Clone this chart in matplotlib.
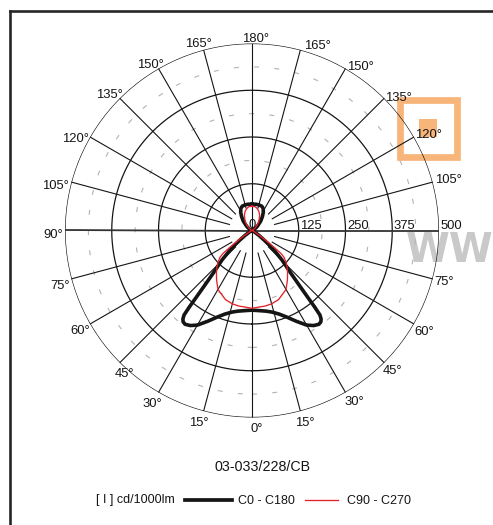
import numpy as np
import matplotlib
matplotlib.use("Agg")
import matplotlib.pyplot as plt
from matplotlib.lines import Line2D
from matplotlib.patches import Rectangle

plt.rcParams['font.family'] = ['Liberation Sans', 'DejaVu Sans']
plt.rcParams['lines.scale_dashes'] = False

# ---- photometric data (cd/1000lm), angle measured from nadir ----
c0_angles = [0, 5, 10, 14, 18, 22, 26, 30, 33, 35.5, 37, 38, 38.8, 39.3, 39.8,
             40.6, 41.3, 42.2, 43.5, 45.5, 48, 50, 52, 55, 58, 62, 68, 75, 90,
             100, 110, 120, 128, 137, 143, 148, 153, 158, 165, 172, 180]
c0_values = [213, 215, 219, 225, 235, 250, 270, 292, 303, 308, 306, 300, 290, 265, 235,
             200, 178, 156, 135, 112, 82, 58, 40, 22, 10, 4, 1, 0, 0,
             1, 3, 9, 18, 34, 46, 57, 66, 70, 71, 71, 70]

c90_angles = [0, 10, 15, 21, 30, 35.5, 40, 44, 47, 50, 51.5, 52.5, 53.5, 55, 57,
              60, 65, 72, 80, 90, 100, 110, 120, 128, 135, 141, 147, 153, 160,
              166, 172, 180]
c90_values = [208, 205, 203, 198, 182, 163, 148, 135, 124, 112, 100, 80, 60, 38, 20,
              10, 4, 1, 0, 0, 0, 1, 4, 10, 18, 27, 35, 45, 54,
              60, 64, 65]

rings = [125, 250, 375, 500]
ring_labels = ["125", "250", "375", "500"]
minor_rings = [187.5, 312.5, 437.5]
spoke_angles = [15, 30, 45, 60, 75, 105, 120, 135, 150, 165]
label_angles = [0, 15, 30, 45, 60, 75, 90, 105, 120, 135, 150, 165, 180]

title_text = "03-033/228/CB"
unit_text = "[ I ] cd/1000lm"
series_names = ["C0 - C180", "C90 - C270"]

# ---- layout ----
W, H = 493, 525
CX, CY, R = 252, 230.5, 187
INK = '#151515'
BLACK = '#151515'
RED = '#e3222a'
ORANGE = '#f7b57a'
FS = 9.4

# text-centre offsets (px, right/down) from the end of each spoke
label_offsets = {
    (180, 0): (4, -6.5),
    (165, -1): (-5, -7), (165, 1): (17, -5),
    (150, -1): (-8.5, -5.5), (150, 1): (14.5, -3.5),
    (135, -1): (-10, -5), (135, 1): (14, -2),
    (120, -1): (-15, 0), (120, 1): (14.5, -4),
    (105, -1): (-16, 2), (105, 1): (16, -4),
    (90, -1): (-12, 2.5),
    (75, -1): (-11.4, 6), (75, 1): (11, 2),
    (60, -1): (-10, 6), (60, 1): (10, 6),
    (45, -1): (4.7, 9.5), (45, 1): (8, 7),
    (30, -1): (-6, 10.5), (30, 1): (8.5, 8.5),
    (15, -1): (-4.6, 10.5), (15, 1): (4.6, 10.5),
    (0, 0): (4.5, 10),
}


def fx(x):
    return x / W


def fy(y):
    return 1 - y / H


PT = 0.72  # points per pixel at 100 dpi

fig = plt.figure(figsize=(W / 100, H / 100), dpi=100)
fig.patch.set_facecolor('white')

ax = fig.add_axes([fx(CX - R), fy(CY + R), 2 * R / W, 2 * R / H], projection='polar')
ax.set_theta_zero_location('S')
ax.set_theta_direction(1)
ax.set_ylim(0, 500)
ax.grid(False)
ax.set_xticks([])
ax.set_yticks([])
ax.spines['polar'].set_visible(False)
ax.patch.set_visible(False)

full = np.linspace(0, 2 * np.pi, 721)

# minor dashed rings
for r in minor_rings:
    ax.plot(full, np.full_like(full, r), color='#b3b3b3', lw=0.8,
            linestyle=(0, (3.6, 11.0)), zorder=1)

# main rings
for r in rings:
    ax.plot(full, np.full_like(full, r), color=INK, lw=0.9, zorder=2)

# spokes
for a in spoke_angles:
    for s in (1, -1):
        t = np.deg2rad(s * a)
        ax.plot([t, t], [62.5, 500], color=INK, lw=0.8, zorder=2)
# axes through the centre
for a in (90, -90):
    t = np.deg2rad(a)
    ax.plot([t, t], [0, 500], color='#333333', lw=1.3, zorder=2)
for a in (0, 180):
    t = np.deg2rad(a)
    ax.plot([t, t], [0, 500], color=INK, lw=0.8, zorder=2)


def mirrored(angles, values):
    a = np.asarray(angles, dtype=float)
    v = np.asarray(values, dtype=float)
    th = np.concatenate([-a[::-1], a[1:]])
    rv = np.concatenate([v[::-1], v[1:]])
    return np.deg2rad(th), rv


th0, r0 = mirrored(c0_angles, c0_values)
th90, r90 = mirrored(c90_angles, c90_values)
ax.plot(th0, r0, color=BLACK, lw=2.6, zorder=4, solid_joinstyle='round')
ax.plot(th90, r90, color=RED, lw=0.95, zorder=5)

# angle labels
for a in label_angles:
    sides = (0,) if a in (0, 180) else ((-1,) if a == 90 else (-1, 1))
    for s in sides:
        dx, dy = label_offsets[(a, s)]
        t = np.deg2rad(a if s >= 0 else -a)
        ax.annotate(f"{a}°", xy=(t, 500), xycoords='data',
                    xytext=(dx * PT, -(dy + 4.5) * PT), textcoords='offset points',
                    ha='center', va='baseline', fontsize=FS, color=INK,
                    annotation_clip=False, zorder=6)

# radial value labels
for r, lab in zip(rings, ring_labels):
    ax.annotate(lab, xy=(np.deg2rad(90), r), xycoords='data',
                xytext=(1.5 * PT, 1.5 * PT), textcoords='offset points',
                ha='left', va='baseline', fontsize=FS, color=INK,
                annotation_clip=False, zorder=6)
ax.annotate("0", xy=(0, 0), xycoords='data', xytext=(0, 2.5 * PT),
            textcoords='offset points', ha='center', va='baseline',
            fontsize=FS, color=INK, annotation_clip=False, zorder=6)

# background decorations
fig.add_artist(Rectangle((fx(400), fy(156.7)), 56.7 / W, 56.7 / H, fill=False,
                         edgecolor=ORANGE, lw=6.7 * PT, transform=fig.transFigure,
                         zorder=-2))
fig.add_artist(Rectangle((fx(419.3), fy(137.3)), 18 / W, 18 / H, facecolor=ORANGE,
                         edgecolor='none', transform=fig.transFigure, zorder=-2))
fig.text(fx(406), fy(262), "WW", color='#c9c9c9', fontsize=28.6,
         fontweight='bold', family='DejaVu Sans', ha='left', va='baseline',
         zorder=-1)

# frame
fig.add_artist(Line2D([fx(10), fx(10)], [fy(10.5), 0], color='#262626', lw=1.9,
                      solid_capstyle='projecting', transform=fig.transFigure))
fig.add_artist(Line2D([fx(10), 1], [fy(10.5), fy(10.5)], color='#262626', lw=1.9,
                      solid_capstyle='projecting', transform=fig.transFigure))

# title and legend
fig.text(fx(262.5), fy(471), title_text, ha='center', va='baseline', fontsize=10.3,
         family=['Liberation Sans Narrow', 'Liberation Sans'], color=INK)
fig.text(fx(175), fy(503.5), unit_text, ha='right', va='baseline', fontsize=9, color=INK)
fig.add_artist(Line2D([fx(185), fx(231.7)], [fy(500), fy(500)], color=BLACK, lw=2.7,
                      transform=fig.transFigure))
fig.text(fx(238.3), fy(503.5), series_names[0], ha='left', va='baseline', fontsize=9,
         color=INK)
fig.add_artist(Line2D([fx(305), fx(338.3)], [fy(500), fy(500)], color=RED, lw=0.95,
                      transform=fig.transFigure))
fig.text(fx(346.7), fy(503.5), series_names[1], ha='left', va='baseline', fontsize=9,
         color=INK)

fig.savefig("out.png", dpi=100)
